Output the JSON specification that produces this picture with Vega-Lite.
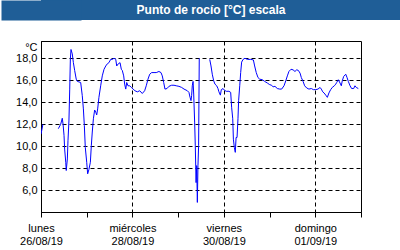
{
  "$schema": "https://vega.github.io/schema/vega-lite/v6.json",
  "background": "white",
  "padding": 0,
  "spacing": 20,
  "config": {
    "view": {"stroke": "black", "strokeWidth": 1},
    "axis": {"labelFont": "Liberation Sans", "labelFontSize": 11, "labelColor": "black", "titleFont": "Liberation Sans", "titleFontSize": 11, "titleColor": "black", "titleFontWeight": "normal", "domainColor": "black", "tickColor": "black", "gridColor": "black", "gridDash": [4, 3]}
  },
  "vconcat": [
    {
      "width": 360,
      "height": 20,
      "view": {"fill": "#1f5e97", "stroke": null},
      "data": {"values": [{"titulo": "Punto de rocío [°C] escala"}]},
      "mark": {"type": "text", "font": "Liberation Sans", "fontSize": 12, "fontWeight": "bold", "color": "white", "dx": -10, "baseline": "middle"},
      "encoding": {
        "text": {"field": "titulo", "type": "nominal"},
        "y": {"datum": 0, "type": "quantitative", "scale": {"domain": [-1, 1]}, "axis": {"title": null, "labels": false, "ticks": false, "grid": false, "domain": true, "domainColor": "#1f5e97", "domainWidth": 80, "minExtent": 40, "maxExtent": 40}}
      }
    },
    {
      "width": 320,
      "height": 171,
      "data": {"values": [
        {"t": "2019-08-26T00:00:00Z", "v": 11.1},
        {"t": "2019-08-26T01:00:00Z", "v": 12.0},
        {"t": "2019-08-26T05:00:00Z", "v": null},
        {"t": "2019-08-26T09:05:00Z", "v": 11.6},
        {"t": "2019-08-26T10:20:00Z", "v": 12.0},
        {"t": "2019-08-26T11:10:00Z", "v": 12.55},
        {"t": "2019-08-26T11:35:00Z", "v": 12.0},
        {"t": "2019-08-26T12:05:00Z", "v": 11.0},
        {"t": "2019-08-26T12:25:00Z", "v": 9.75},
        {"t": "2019-08-26T13:00:00Z", "v": 8.55},
        {"t": "2019-08-26T13:15:00Z", "v": 7.8},
        {"t": "2019-08-26T13:50:00Z", "v": 8.85},
        {"t": "2019-08-26T14:10:00Z", "v": 10.5},
        {"t": "2019-08-26T14:40:00Z", "v": 12.3},
        {"t": "2019-08-26T15:05:00Z", "v": 15.2},
        {"t": "2019-08-26T15:25:00Z", "v": 17.95},
        {"t": "2019-08-26T15:45:00Z", "v": 18.8},
        {"t": "2019-08-26T16:25:00Z", "v": 18.4},
        {"t": "2019-08-26T17:00:00Z", "v": 17.6},
        {"t": "2019-08-26T17:40:00Z", "v": 16.9},
        {"t": "2019-08-26T18:30:00Z", "v": 16.1},
        {"t": "2019-08-26T19:05:00Z", "v": 15.9},
        {"t": "2019-08-26T19:55:00Z", "v": 15.85},
        {"t": "2019-08-26T20:50:00Z", "v": 15.8},
        {"t": "2019-08-26T21:40:00Z", "v": 14.6},
        {"t": "2019-08-26T22:15:00Z", "v": 13.4},
        {"t": "2019-08-26T22:45:00Z", "v": 11.9},
        {"t": "2019-08-26T23:15:00Z", "v": 9.9},
        {"t": "2019-08-27T00:00:00Z", "v": 8.55},
        {"t": "2019-08-27T00:30:00Z", "v": 7.5},
        {"t": "2019-08-27T01:10:00Z", "v": 7.9},
        {"t": "2019-08-27T01:55:00Z", "v": 8.55},
        {"t": "2019-08-27T02:25:00Z", "v": 10.05},
        {"t": "2019-08-27T02:55:00Z", "v": 11.3},
        {"t": "2019-08-27T03:30:00Z", "v": 12.5},
        {"t": "2019-08-27T04:10:00Z", "v": 13.3},
        {"t": "2019-08-27T04:45:00Z", "v": 13.1},
        {"t": "2019-08-27T05:15:00Z", "v": 12.85},
        {"t": "2019-08-27T05:45:00Z", "v": 13.4},
        {"t": "2019-08-27T06:25:00Z", "v": 14.45},
        {"t": "2019-08-27T07:20:00Z", "v": 15.5},
        {"t": "2019-08-27T08:10:00Z", "v": 16.4},
        {"t": "2019-08-27T09:05:00Z", "v": 17.0},
        {"t": "2019-08-27T10:00:00Z", "v": 17.3},
        {"t": "2019-08-27T10:50:00Z", "v": 17.5},
        {"t": "2019-08-27T11:40:00Z", "v": 17.6},
        {"t": "2019-08-27T12:35:00Z", "v": 17.9},
        {"t": "2019-08-27T13:25:00Z", "v": 17.9},
        {"t": "2019-08-27T14:20:00Z", "v": 18.0},
        {"t": "2019-08-27T15:15:00Z", "v": 17.9},
        {"t": "2019-08-27T15:45:00Z", "v": 17.3},
        {"t": "2019-08-27T16:35:00Z", "v": 17.5},
        {"t": "2019-08-27T17:30:00Z", "v": 17.6},
        {"t": "2019-08-27T18:10:00Z", "v": 17.0},
        {"t": "2019-08-27T18:40:00Z", "v": 16.9},
        {"t": "2019-08-27T19:25:00Z", "v": 16.4},
        {"t": "2019-08-27T19:55:00Z", "v": 15.65},
        {"t": "2019-08-27T20:30:00Z", "v": 15.2},
        {"t": "2019-08-27T21:00:00Z", "v": 15.8},
        {"t": "2019-08-27T21:40:00Z", "v": 15.5},
        {"t": "2019-08-27T22:35:00Z", "v": 15.5},
        {"t": "2019-08-27T23:25:00Z", "v": 15.35},
        {"t": "2019-08-28T00:20:00Z", "v": 15.2},
        {"t": "2019-08-28T01:20:00Z", "v": 15.05},
        {"t": "2019-08-28T02:35:00Z", "v": 14.95},
        {"t": "2019-08-28T03:50:00Z", "v": 15.05},
        {"t": "2019-08-28T05:10:00Z", "v": 14.8},
        {"t": "2019-08-28T06:25:00Z", "v": 15.05},
        {"t": "2019-08-28T07:15:00Z", "v": 15.5},
        {"t": "2019-08-28T08:10:00Z", "v": 16.1},
        {"t": "2019-08-28T09:05:00Z", "v": 16.55},
        {"t": "2019-08-28T10:05:00Z", "v": 16.7},
        {"t": "2019-08-28T11:20:00Z", "v": 16.7},
        {"t": "2019-08-28T12:30:00Z", "v": 16.7},
        {"t": "2019-08-28T13:55:00Z", "v": 16.8},
        {"t": "2019-08-28T15:00:00Z", "v": 16.7},
        {"t": "2019-08-28T15:40:00Z", "v": 16.4},
        {"t": "2019-08-28T16:25:00Z", "v": 15.8},
        {"t": "2019-08-28T17:05:00Z", "v": 15.2},
        {"t": "2019-08-28T18:10:00Z", "v": 15.25},
        {"t": "2019-08-28T19:10:00Z", "v": 15.45},
        {"t": "2019-08-28T20:35:00Z", "v": 15.55},
        {"t": "2019-08-28T21:50:00Z", "v": 15.55},
        {"t": "2019-08-28T23:00:00Z", "v": 15.5},
        {"t": "2019-08-29T00:25:00Z", "v": 15.45},
        {"t": "2019-08-29T01:50:00Z", "v": 15.35},
        {"t": "2019-08-29T03:05:00Z", "v": 15.2},
        {"t": "2019-08-29T04:50:00Z", "v": 15.05},
        {"t": "2019-08-29T05:40:00Z", "v": 14.9},
        {"t": "2019-08-29T06:15:00Z", "v": 14.45},
        {"t": "2019-08-29T06:45:00Z", "v": 14.15},
        {"t": "2019-08-29T07:05:00Z", "v": 14.6},
        {"t": "2019-08-29T07:25:00Z", "v": 15.5},
        {"t": "2019-08-29T07:50:00Z", "v": 15.9},
        {"t": "2019-08-29T08:10:00Z", "v": 14.75},
        {"t": "2019-08-29T08:40:00Z", "v": 12.2},
        {"t": "2019-08-29T09:00:00Z", "v": 10.05},
        {"t": "2019-08-29T09:25:00Z", "v": 6.7},
        {"t": "2019-08-29T09:45:00Z", "v": 8.25},
        {"t": "2019-08-29T10:05:00Z", "v": 4.9},
        {"t": "2019-08-29T10:25:00Z", "v": 8.25},
        {"t": "2019-08-29T10:45:00Z", "v": 10.05},
        {"t": "2019-08-29T10:55:00Z", "v": 14.0},
        {"t": "2019-08-29T11:05:00Z", "v": 18.0},
        {"t": "2019-08-29T14:00:00Z", "v": null},
        {"t": "2019-08-29T16:35:00Z", "v": 17.9},
        {"t": "2019-08-29T17:15:00Z", "v": 17.3},
        {"t": "2019-08-29T17:55:00Z", "v": 16.55},
        {"t": "2019-08-29T18:40:00Z", "v": 15.95},
        {"t": "2019-08-29T19:20:00Z", "v": 15.65},
        {"t": "2019-08-29T20:15:00Z", "v": 15.5},
        {"t": "2019-08-29T20:55:00Z", "v": 15.25},
        {"t": "2019-08-29T21:25:00Z", "v": 14.95},
        {"t": "2019-08-29T22:10:00Z", "v": 14.65},
        {"t": "2019-08-29T22:40:00Z", "v": 15.15},
        {"t": "2019-08-29T23:35:00Z", "v": 15.25},
        {"t": "2019-08-30T00:15:00Z", "v": 15.1},
        {"t": "2019-08-30T01:15:00Z", "v": 15.0},
        {"t": "2019-08-30T02:40:00Z", "v": 15.0},
        {"t": "2019-08-30T03:35:00Z", "v": 14.9},
        {"t": "2019-08-30T04:05:00Z", "v": 13.55},
        {"t": "2019-08-30T04:40:00Z", "v": 12.5},
        {"t": "2019-08-30T05:00:00Z", "v": 10.65},
        {"t": "2019-08-30T05:30:00Z", "v": 9.9},
        {"t": "2019-08-30T06:00:00Z", "v": 9.45},
        {"t": "2019-08-30T06:25:00Z", "v": 10.8},
        {"t": "2019-08-30T06:55:00Z", "v": 10.8},
        {"t": "2019-08-30T07:25:00Z", "v": 12.5},
        {"t": "2019-08-30T07:45:00Z", "v": 14.15},
        {"t": "2019-08-30T08:20:00Z", "v": 15.5},
        {"t": "2019-08-30T08:50:00Z", "v": 16.7},
        {"t": "2019-08-30T09:20:00Z", "v": 17.65},
        {"t": "2019-08-30T10:05:00Z", "v": 17.9},
        {"t": "2019-08-30T11:05:00Z", "v": 18.0},
        {"t": "2019-08-30T12:20:00Z", "v": 17.9},
        {"t": "2019-08-30T14:05:00Z", "v": 17.9},
        {"t": "2019-08-30T15:30:00Z", "v": 17.85},
        {"t": "2019-08-30T16:10:00Z", "v": 17.3},
        {"t": "2019-08-30T17:00:00Z", "v": 16.7},
        {"t": "2019-08-30T17:55:00Z", "v": 16.25},
        {"t": "2019-08-30T18:50:00Z", "v": 16.1},
        {"t": "2019-08-30T20:10:00Z", "v": 16.05},
        {"t": "2019-08-30T21:25:00Z", "v": 15.9},
        {"t": "2019-08-30T22:50:00Z", "v": 15.75},
        {"t": "2019-08-31T00:05:00Z", "v": 15.6},
        {"t": "2019-08-31T01:05:00Z", "v": 15.55},
        {"t": "2019-08-31T01:50:00Z", "v": 15.4},
        {"t": "2019-08-31T02:50:00Z", "v": 15.45},
        {"t": "2019-08-31T04:05:00Z", "v": 15.25},
        {"t": "2019-08-31T05:20:00Z", "v": 15.2},
        {"t": "2019-08-31T06:20:00Z", "v": 15.2},
        {"t": "2019-08-31T07:35:00Z", "v": 15.5},
        {"t": "2019-08-31T08:30:00Z", "v": 15.95},
        {"t": "2019-08-31T09:20:00Z", "v": 16.4},
        {"t": "2019-08-31T10:10:00Z", "v": 16.8},
        {"t": "2019-08-31T11:15:00Z", "v": 17.0},
        {"t": "2019-08-31T12:20:00Z", "v": 16.95},
        {"t": "2019-08-31T13:20:00Z", "v": 16.8},
        {"t": "2019-08-31T14:15:00Z", "v": 16.95},
        {"t": "2019-08-31T15:05:00Z", "v": 16.9},
        {"t": "2019-08-31T16:00:00Z", "v": 16.65},
        {"t": "2019-08-31T16:40:00Z", "v": 16.25},
        {"t": "2019-08-31T17:35:00Z", "v": 15.9},
        {"t": "2019-08-31T18:25:00Z", "v": 15.5},
        {"t": "2019-08-31T19:30:00Z", "v": 15.3},
        {"t": "2019-08-31T20:40:00Z", "v": 15.2},
        {"t": "2019-08-31T21:55:00Z", "v": 15.25},
        {"t": "2019-08-31T23:00:00Z", "v": 15.15},
        {"t": "2019-09-01T00:15:00Z", "v": 15.15},
        {"t": "2019-09-01T01:25:00Z", "v": 15.2},
        {"t": "2019-09-01T02:30:00Z", "v": 15.35},
        {"t": "2019-09-01T03:10:00Z", "v": 15.2},
        {"t": "2019-09-01T03:55:00Z", "v": 14.95},
        {"t": "2019-09-01T04:35:00Z", "v": 14.85},
        {"t": "2019-09-01T05:30:00Z", "v": 14.65},
        {"t": "2019-09-01T06:20:00Z", "v": 14.45},
        {"t": "2019-09-01T07:10:00Z", "v": 14.85},
        {"t": "2019-09-01T08:05:00Z", "v": 15.15},
        {"t": "2019-09-01T08:55:00Z", "v": 15.35},
        {"t": "2019-09-01T10:00:00Z", "v": 15.5},
        {"t": "2019-09-01T10:45:00Z", "v": 15.65},
        {"t": "2019-09-01T11:15:00Z", "v": 15.8},
        {"t": "2019-09-01T12:05:00Z", "v": 16.05},
        {"t": "2019-09-01T13:00:00Z", "v": 15.75},
        {"t": "2019-09-01T13:40:00Z", "v": 15.5},
        {"t": "2019-09-01T14:10:00Z", "v": 15.95},
        {"t": "2019-09-01T14:55:00Z", "v": 16.35},
        {"t": "2019-09-01T16:00:00Z", "v": 16.55},
        {"t": "2019-09-01T16:40:00Z", "v": 16.25},
        {"t": "2019-09-01T17:20:00Z", "v": 15.9},
        {"t": "2019-09-01T18:15:00Z", "v": 15.5},
        {"t": "2019-09-01T19:05:00Z", "v": 15.25},
        {"t": "2019-09-01T20:10:00Z", "v": 15.25},
        {"t": "2019-09-01T20:50:00Z", "v": 15.5},
        {"t": "2019-09-01T21:30:00Z", "v": 15.35},
        {"t": "2019-09-01T22:35:00Z", "v": 15.25}
      ]},
      "encoding": {
        "y": {
          "field": "v",
          "type": "quantitative",
          "scale": {"domain": [4.03, 19.57], "nice": false, "zero": false},
          "axis": {
            "title": "°C",
            "titleAngle": 0,
            "titleAlign": "right",
            "titleBaseline": "alphabetic",
            "titleX": -4,
            "titleY": 9,
            "values": [6, 8, 10, 12, 14, 16, 18],
            "labelExpr": "replace(format(datum.value, '.1f'), '.', ',')",
            "ticks": false,
            "labelPadding": 4,
            "minExtent": 40,
            "maxExtent": 40,
            "grid": true
          }
        }
      },
      "resolve": {"axis": {"x": "independent"}},
      "layer": [
        {
          "mark": {"type": "line", "color": "#0000ff", "strokeWidth": 1, "clip": true, "invalid": "break-paths-show-domains"},
          "encoding": {
            "x": {
              "field": "t",
              "type": "temporal",
              "scale": {"type": "utc", "domain": [{"year": 2019, "month": 8, "date": 26, "utc": true}, {"year": 2019, "month": 9, "date": 2, "utc": true}]},
              "axis": {
                "orient": "bottom",
                "title": null,
                "values": [
                  {"year": 2019, "month": 8, "date": 26, "utc": true},
                  {"year": 2019, "month": 8, "date": 27, "utc": true},
                  {"year": 2019, "month": 8, "date": 28, "utc": true},
                  {"year": 2019, "month": 8, "date": 29, "utc": true},
                  {"year": 2019, "month": 8, "date": 30, "utc": true},
                  {"year": 2019, "month": 8, "date": 31, "utc": true},
                  {"year": 2019, "month": 9, "date": 1, "utc": true},
                  {"year": 2019, "month": 9, "date": 2, "utc": true}
                ],
                "labelExpr": "(datum.value - 1566777600000) % 172800000 === 0 ? ['domingo','lunes','martes','miércoles','jueves','viernes','sábado'][utcday(datum.value)] : ''",
                "labelOverlap": false,
                "labelFlush": false,
                "labelBound": false,
                "labelBaseline": "top",
                "labelPadding": 5,
                "tickSize": 5,
                "grid": true,
                "gridOpacity": {"condition": {"test": "(datum.value - 1566777600000) % 172800000 === 0", "value": 1}, "value": 0}
              }
            }
          }
        },
        {
          "mark": {"type": "line", "color": "#0000ff", "strokeWidth": 1, "strokeOpacity": 0, "clip": true, "invalid": "break-paths-show-domains"},
          "encoding": {
            "x": {
              "field": "t",
              "type": "temporal",
              "scale": {"type": "utc", "domain": [{"year": 2019, "month": 8, "date": 26, "utc": true}, {"year": 2019, "month": 9, "date": 2, "utc": true}]},
              "axis": {
                "orient": "bottom",
                "title": null,
                "values": [
                  {"year": 2019, "month": 8, "date": 26, "utc": true},
                  {"year": 2019, "month": 8, "date": 28, "utc": true},
                  {"year": 2019, "month": 8, "date": 30, "utc": true},
                  {"year": 2019, "month": 9, "date": 1, "utc": true}
                ],
                "labelExpr": "utcFormat(datum.value, '%d/%m/%y')",
                "labelOverlap": false,
                "labelFlush": false,
                "labelBound": false,
                "labelBaseline": "top",
                "labelPadding": 23,
                "domain": false,
                "ticks": false,
                "grid": false
              }
            }
          }
        }
      ]
    }
  ]
}
